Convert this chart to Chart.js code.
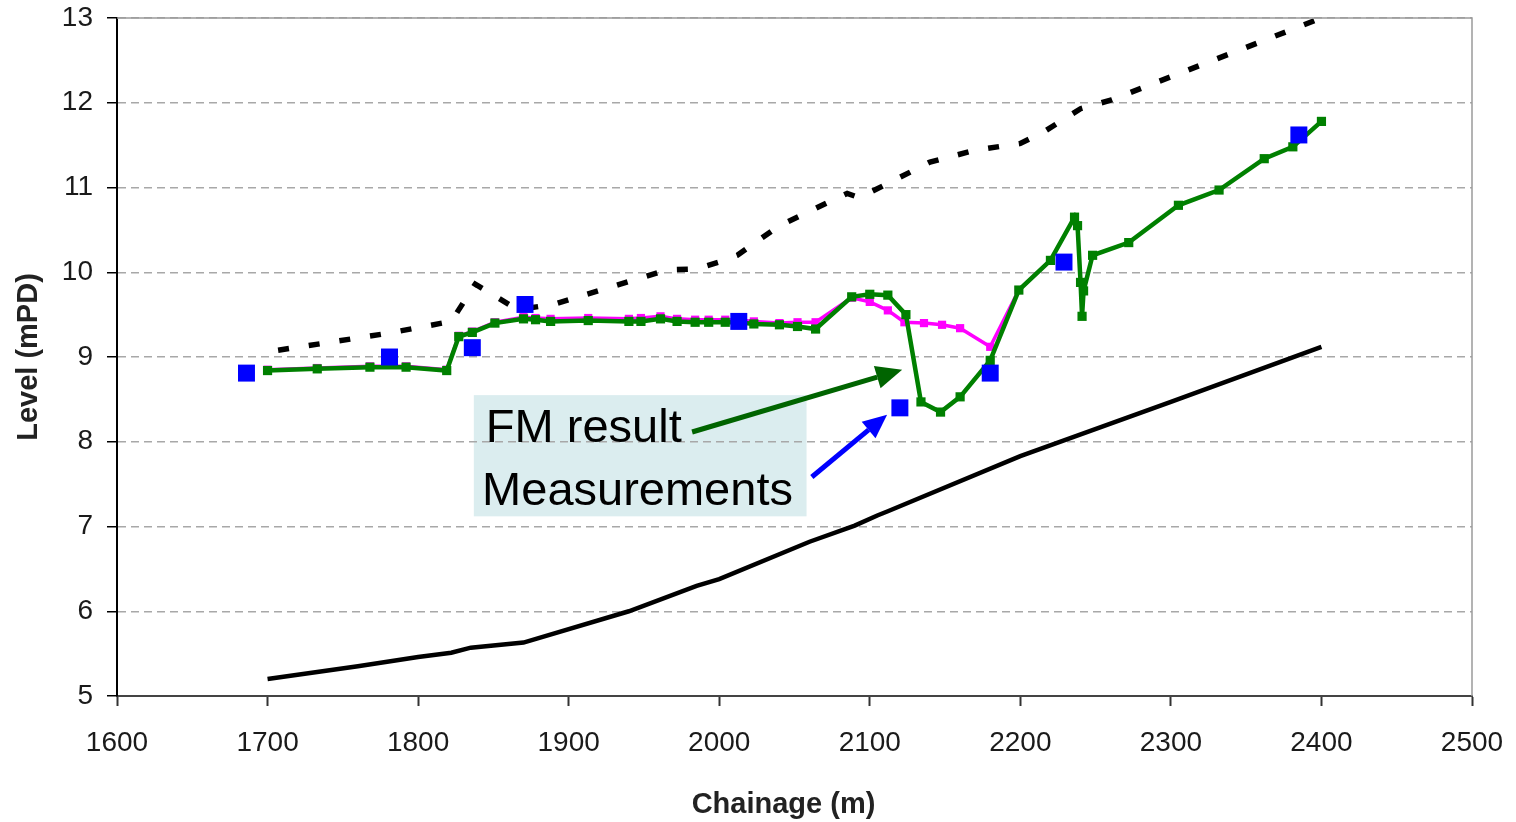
<!DOCTYPE html>
<html lang="en">
<head>
    <meta charset="UTF-8">
    <title>Level vs Chainage</title>
    <script src="https://cdn.jsdelivr.net/npm/chart.js"></script>
    <style>
        body {
            margin: 0;
            padding: 0;
            background: white;
        }
        .wrap {
            width: 1516px;
            height: 822px;
            position: relative;
        }
    </style>
</head>
<body>
    <div class="wrap">
        <canvas id="levelChart"></canvas>
    </div>
    <script>
        // chainage (m) / level (mPD)
        const fmX = [1700, 1733, 1768, 1792, 1819, 1827, 1836, 1851, 1870, 1878, 1888, 1913, 1940, 1948, 1961, 1972, 1984, 1993, 2004, 2013, 2023, 2040, 2052, 2064, 2088, 2100, 2112, 2124, 2134, 2147, 2160, 2180, 2199, 2220, 2236, 2238, 2240, 2241, 2242, 2248, 2272, 2305, 2332, 2362, 2381, 2400];
        const fmY = [8.84, 8.86, 8.88, 8.88, 8.84, 9.24, 9.29, 9.40, 9.45, 9.44, 9.42, 9.43, 9.42, 9.42, 9.45, 9.42, 9.41, 9.41, 9.41, 9.41, 9.39, 9.38, 9.36, 9.33, 9.71, 9.74, 9.73, 9.50, 8.47, 8.35, 8.53, 8.96, 9.79, 10.14, 10.65, 10.55, 9.88, 9.48, 9.78, 10.20, 10.35, 10.79, 10.97, 11.34, 11.48, 11.78];

        const magX = [1700, 1733, 1768, 1792, 1819, 1827, 1836, 1851, 1870, 1878, 1888, 1913, 1940, 1948, 1961, 1972, 1984, 1993, 2004, 2013, 2023, 2040, 2052, 2064, 2088, 2100, 2112, 2123, 2136, 2148, 2160, 2180, 2199, 2220];
        const magY = [8.85, 8.87, 8.89, 8.89, 8.85, 9.25, 9.30, 9.41, 9.47, 9.46, 9.45, 9.46, 9.45, 9.46, 9.48, 9.45, 9.44, 9.44, 9.44, 9.44, 9.42, 9.40, 9.41, 9.41, 9.70, 9.65, 9.55, 9.41, 9.40, 9.38, 9.34, 9.12, 9.79, 10.14];

        const measX = [1686, 1781, 1836, 1871, 2013, 2120, 2180, 2229, 2385];
        const measY = [8.81, 9.00, 9.11, 9.62, 9.42, 8.40, 8.81, 10.12, 11.62];

        const upperX = [1707, 1740, 1780, 1822, 1838, 1866, 1890, 1960, 1968, 1985, 2000, 2012, 2040, 2060, 2085, 2093, 2110, 2140, 2170, 2200, 2215, 2240, 2260, 2400];
        const upperY = [9.08, 9.17, 9.28, 9.42, 9.86, 9.56, 9.62, 10.00, 10.03, 10.04, 10.12, 10.20, 10.55, 10.72, 10.93, 10.88, 11.03, 11.30, 11.44, 11.52, 11.65, 11.93, 12.03, 13.00];

        const lowerX = [1700, 1760, 1800, 1822, 1835, 1870, 1940, 1985, 2000, 2060, 2090, 2105, 2112, 2200, 2300, 2400];
        const lowerY = [5.20, 5.35, 5.46, 5.51, 5.57, 5.63, 6.00, 6.30, 6.38, 6.82, 7.01, 7.13, 7.18, 7.83, 8.47, 9.12];

        const xTicks = [1600, 1700, 1800, 1900, 2000, 2100, 2200, 2300, 2400, 2500];
        const yTicks = [5, 6, 7, 8, 9, 10, 11, 12, 13];

        function pts(xs, ys) {
            return xs.map((x, i) => ({ x: x, y: ys[i] }));
        }

        const FONT = "'Liberation Sans', Arial, sans-serif";

        // annotation anchors in data units (chainage, level)
        const noteBox = { x1: 1837, x2: 2058, y1: 8.55, y2: 7.12 };
        const noteFM = { x: 1845, y: 8.00, text: 'FM result' };
        const noteMeas = { x: 1842.5, y: 7.254, text: 'Measurements' };
        const arrowFM = { x1: 1982, y1: 8.115, x2: 2121.5, y2: 8.85 };
        const arrowMeas = { x1: 2061.5, y1: 7.584, x2: 2111.5, y2: 8.32 };

        function drawArrow(ctx, sx, sy, ex, ey, color, head) {
            const ang = Math.atan2(ey - sy, ex - sx);
            const bx = ex - head * Math.cos(ang);
            const by = ey - head * Math.sin(ang);
            ctx.save();
            ctx.strokeStyle = color;
            ctx.fillStyle = color;
            ctx.lineWidth = 5;
            ctx.beginPath();
            ctx.moveTo(sx, sy);
            ctx.lineTo(bx, by);
            ctx.stroke();
            const w = head * 0.45;
            ctx.beginPath();
            ctx.moveTo(ex, ey);
            ctx.lineTo(bx + w * Math.sin(ang), by - w * Math.cos(ang));
            ctx.lineTo(bx - w * Math.sin(ang), by + w * Math.cos(ang));
            ctx.closePath();
            ctx.fill();
            ctx.restore();
        }

        const notesPlugin = {
            id: 'notes',
            beforeDraw(chart) {
                const ctx = chart.ctx;
                const sx = chart.scales.x, sy = chart.scales.y;
                const x1 = sx.getPixelForValue(noteBox.x1), x2 = sx.getPixelForValue(noteBox.x2);
                const y1 = sy.getPixelForValue(noteBox.y1), y2 = sy.getPixelForValue(noteBox.y2);
                ctx.save();
                ctx.fillStyle = '#dbedef';
                ctx.fillRect(x1, y1, x2 - x1, y2 - y1);
                ctx.restore();
            },
            afterDraw(chart) {
                const ctx = chart.ctx;
                const a = chart.chartArea;
                const sx = chart.scales.x, sy = chart.scales.y;
                // top and right frame
                ctx.save();
                ctx.strokeStyle = '#9a9a9a';
                ctx.lineWidth = 1.5;
                ctx.beginPath();
                ctx.moveTo(a.left, a.top);
                ctx.lineTo(a.right, a.top);
                ctx.lineTo(a.right, a.bottom);
                ctx.stroke();
                ctx.restore();

                // x axis title, a bit left of centre as in the original
                ctx.save();
                ctx.fillStyle = '#222';
                ctx.font = 'bold 29px ' + FONT;
                ctx.textAlign = 'center';
                ctx.textBaseline = 'middle';
                ctx.fillText('Chainage (m)', (a.left + a.right) / 2 - 11, 805);
                ctx.restore();

                ctx.save();
                ctx.fillStyle = '#000';
                ctx.font = '47px ' + FONT;
                ctx.textBaseline = 'alphabetic';
                ctx.textAlign = 'left';
                ctx.fillText(noteFM.text, sx.getPixelForValue(noteFM.x), sy.getPixelForValue(noteFM.y));
                ctx.fillText(noteMeas.text, sx.getPixelForValue(noteMeas.x), sy.getPixelForValue(noteMeas.y));
                ctx.restore();

                drawArrow(ctx,
                    sx.getPixelForValue(arrowFM.x1), sy.getPixelForValue(arrowFM.y1),
                    sx.getPixelForValue(arrowFM.x2), sy.getPixelForValue(arrowFM.y2),
                    '#006400', 26);
                drawArrow(ctx,
                    sx.getPixelForValue(arrowMeas.x1), sy.getPixelForValue(arrowMeas.y1),
                    sx.getPixelForValue(arrowMeas.x2), sy.getPixelForValue(arrowMeas.y2),
                    '#0000ff', 24);
            }
        };

        const ctx = document.getElementById('levelChart').getContext('2d');
        const levelChart = new Chart(ctx, {
            type: 'scatter',
            data: {
                datasets: [
                    {
                        label: 'Measurements',
                        data: pts(measX, measY),
                        showLine: false,
                        pointStyle: 'rect',
                        pointRadius: 12,
                        backgroundColor: '#0000ff',
                        borderColor: '#0000ff',
                        borderWidth: 0
                    },
                    {
                        label: 'FM result',
                        data: pts(fmX, fmY),
                        showLine: true,
                        borderColor: '#008000',
                        borderWidth: 4.5,
                        pointStyle: 'rect',
                        pointRadius: 6.5,
                        pointBackgroundColor: '#008000',
                        pointBorderWidth: 0
                    },
                    {
                        label: 'Magenta',
                        data: pts(magX, magY),
                        showLine: true,
                        borderColor: '#ff00ff',
                        borderWidth: 3.5,
                        pointStyle: 'rect',
                        pointRadius: 5.8,
                        pointBackgroundColor: '#ff00ff',
                        pointBorderWidth: 0
                    },
                    {
                        label: 'Upper',
                        data: pts(upperX, upperY),
                        showLine: true,
                        borderColor: '#000',
                        borderWidth: 5.5,
                        borderDash: [11, 20],
                        pointRadius: 0
                    },
                    {
                        label: 'Lower',
                        data: pts(lowerX, lowerY),
                        showLine: true,
                        borderColor: '#000',
                        borderWidth: 4.5,
                        pointRadius: 0
                    }
                ]
            },
            options: {
                responsive: true,
                maintainAspectRatio: false,
                animation: false,
                layout: {
                    padding: { top: 18, right: 44, left: 0, bottom: 0 }
                },
                plugins: {
                    legend: { display: false },
                    tooltip: { enabled: false }
                },
                scales: {
                    x: {
                        type: 'linear',
                        min: 1600,
                        max: 2500,
                        afterBuildTicks: (scale) => { scale.ticks = xTicks.map(v => ({ value: v })); },
                        afterFit: (scale) => {
                            scale.height = 126;
                            scale.paddingLeft = 0;
                            scale.paddingRight = 0;
                        },
                        ticks: {
                            color: '#1a1a1a',
                            font: { family: FONT, size: 28 },
                            padding: 20,
                            maxRotation: 0,
                            callback: (v) => String(v)
                        },
                        grid: {
                            drawOnChartArea: false,
                            tickLength: 10,
                            tickColor: '#333',
                            tickWidth: 2
                        },
                        border: { color: '#444', width: 2 },
                        title: { display: false }
                    },
                    y: {
                        min: 5,
                        max: 13,
                        afterBuildTicks: (scale) => { scale.ticks = yTicks.map(v => ({ value: v })); },
                        afterFit: (scale) => {
                            scale.width = 117;
                            scale.paddingTop = 0;
                            scale.paddingBottom = 0;
                        },
                        ticks: {
                            color: '#1a1a1a',
                            font: { family: FONT, size: 28 },
                            padding: 14,
                            callback: (v) => String(v)
                        },
                        grid: {
                            color: '#a8a8a8',
                            lineWidth: 1.5,
                            tickBorderDash: [],
                            tickColor: '#000',
                            tickWidth: 1.5,
                            tickLength: 10
                        },
                        border: { color: '#000', width: 2, dash: [8, 5] },
                        title: {
                            display: true,
                            text: 'Level (mPD)',
                            color: '#222',
                            font: { family: FONT, size: 29, weight: 'bold' },
                            padding: { top: 12, bottom: 0 }
                        }
                    }
                }
            },
            plugins: [notesPlugin]
        });
    </script>
</body>
</html>
